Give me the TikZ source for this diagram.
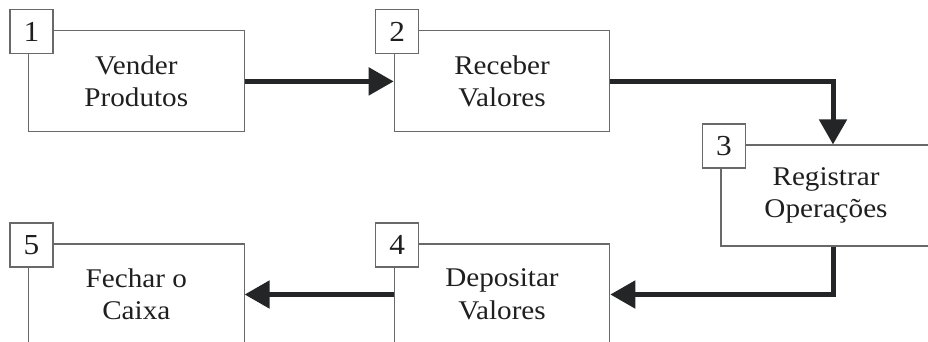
\documentclass[tikz,border=0pt]{standalone}
\usepackage{xcolor}
\usepackage{fontspec}
\setmainfont{Liberation Serif}[FakeStretch=1.08]
\usepackage{tikz}
\usetikzlibrary{arrows.meta}
\definecolor{framegray}{RGB}{105,105,105}
\definecolor{flowdark}{RGB}{35,37,38}
\tikzset{
  stepbox/.style={draw=framegray, line width=1.1pt, minimum width=215.5pt,
    minimum height=101pt, inner sep=0pt, align=center, text=black!88},
  numbox/.style={draw=framegray, fill=white, line width=1.1pt, minimum width=43pt,
    minimum height=44pt, inner sep=0pt, text=black!88},
  flow/.style={draw=flowdark, line width=5pt, -{Triangle[length=25pt,width=27pt]}}
}

\begin{document}
\begin{tikzpicture}[x=1pt,y=-1pt]
            \useasboundingbox (0,0) rectangle (928,341);
            {\fontsize{27}{32.5}\selectfont

            % Step 1 box
            \node [stepbox] (vender) at (136.3,81.4) {Vender\\Produtos};%
            \node [numbox, font=\fontsize{29}{29}\selectfont] (n1) at ([shift={(3.5,1.5)}]vender.north west) {1};%

            % Step 2 box
            \node [stepbox] (receber) at (502.0,81.4) {Receber\\Valores};%
            \node [numbox, font=\fontsize{29}{29}\selectfont] (n2) at ([shift={(3.5,1.5)}]receber.north west) {2};%

            % Step 3 box (runs past the right edge)
            \node [stepbox, minimum width=210pt] (registrar) at (826.0,195.5) {Registrar\\Operações};%
            \node [numbox, font=\fontsize{29}{29}\selectfont] (n3) at ([shift={(3.5,1.5)}]registrar.north west) {3};%

            % Step 4 box (runs past the bottom edge)
            \node [stepbox] (depositar) at (502.0,294.5) {Depositar\\Valores};%
            \node [numbox, font=\fontsize{29}{29}\selectfont] (n4) at ([shift={(3.5,1.5)}]depositar.north west) {4};%

            % Step 5 box
            \node [stepbox] (fechar) at (136.3,294.5) {Fechar o\\Caixa};%
            \node [numbox, font=\fontsize{29}{29}\selectfont] (n5) at ([shift={(3.5,1.5)}]fechar.north west) {5};%

            % Flow between the steps
            \draw [flow] (vender.east) -- (receber.west);%
            \draw [flow] (receber.east) -| ([xshift=7pt]registrar.north);%
            \draw [flow] ([xshift=7pt]registrar.south) |- (depositar.east);%
            \draw [flow] (depositar.west) -- (fechar.east);%
            }
\end{tikzpicture}
\end{document}
